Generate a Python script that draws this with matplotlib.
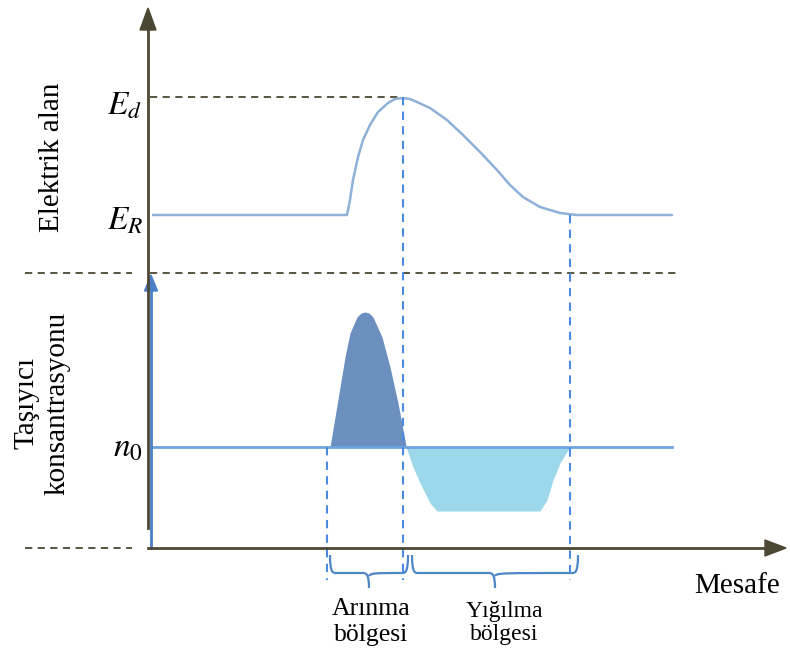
import numpy as np
import matplotlib
matplotlib.use('Agg')
import matplotlib.pyplot as plt
from matplotlib.path import Path
from matplotlib.patches import PathPatch, FancyArrow

plt.rcParams['mathtext.fontset'] = 'stix'

# diagram points (x = distance, y = level; y grows downward)
field_x = [153, 347, 350, 353, 358, 363, 370, 378, 388, 395, 402, 410, 417, 430, 447, 463,
           480, 497, 510, 523, 540, 560, 577, 672]
field_y = [215, 215, 200, 180, 157, 140, 125, 112, 103, 99, 98, 99, 102, 108, 120, 135,
           152, 170, 185, 197, 207, 213, 215, 215]

hump_x = [330, 335, 340, 345, 350, 357, 361, 365, 369, 373, 382, 390, 398, 405, 406]
hump_y = [447, 417, 387, 357, 333, 317, 313, 312, 313, 317, 337, 367, 403, 440, 447]

trough_x = [406, 413, 420, 430, 437, 540, 547, 553, 560, 568, 573]
trough_y = [447, 467, 483, 503, 511, 511, 500, 480, 463, 450, 447]

n0_level = 447
ed_level = 97
er_level = 215
split_level = 273
base_level = 548
region_edges = [327, 403, 570]
region_names = ['Arınma\nbölgesi', 'Yığılma\nbölgesi']

dark = '#4b4733'
blue_dash = '#4a8ae0'

fig = plt.figure(figsize=(7.9, 6.57), dpi=100)
ax = fig.add_axes([0, 0, 1, 1])
ax.set_xlim(0, 790)
ax.set_ylim(657, 0)
ax.axis('off')

# reference dashed lines
ax.plot([150, 400], [ed_level, ed_level], ls=(0, (4, 3)), color=dark, lw=1.3)
ax.plot([25, 132], [split_level, split_level], ls=(0, (4, 3)), color=dark, lw=1.3)
ax.plot([150, 676], [split_level, split_level], ls=(0, (4, 3)), color=dark, lw=1.3)
ax.plot([25, 132], [base_level, base_level], ls=(0, (4, 3)), color=dark, lw=1.3)

# electric field curve
ax.plot(field_x, field_y, color='#8fb0d8', lw=1.8, solid_capstyle='round', solid_joinstyle='round')

# carrier concentration
ax.plot([153, 672], [n0_level, n0_level], color='#6fa3e0', lw=2)
ax.fill_between(hump_x, hump_y, n0_level, color='#6b8fbf', lw=0)
ax.fill_between(trough_x, trough_y, n0_level, color='#9cd8ea', lw=0)

# vertical region markers
ax.plot([region_edges[0]] * 2, [n0_level, 580], ls=(0, (4, 3)), color=blue_dash, lw=1.5)
ax.plot([region_edges[1]] * 2, [ed_level, 580], ls=(0, (4, 3)), color=blue_dash, lw=1.5)
ax.plot([region_edges[2]] * 2, [er_level, 580], ls=(0, (4, 3)), color=blue_dash, lw=1.5)

# axes
ax.plot([151, 151], [base_level, 285], color='#4a7fc8', lw=2)
ax.add_patch(FancyArrow(151, 290, 0, -15, width=0, head_width=13, head_length=16,
                        length_includes_head=True, color='#4a7fc8'))
ax.plot([148, 148], [base_level - 20, 25], color=dark, lw=2)
ax.add_patch(FancyArrow(148, 30, 0, -22, width=0, head_width=16, head_length=22,
                        length_includes_head=True, color=dark))
ax.plot([148, 770], [base_level, base_level], color=dark, lw=2)
ax.add_patch(FancyArrow(765, base_level, 21, 0, width=0, head_width=16, head_length=21,
                        length_includes_head=True, color=dark))


def brace(x0, x1, y, h=18, d=15, col='#4f86c6'):
    xm = (x0 + x1) / 2.0
    verts = [(x0, y - h), (x0, y), (x0 + 3, y), (x0 + 6, y),
             (xm - 6, y), (xm - 2, y), (xm, y + 3), (xm, y + d),
             (xm, y + 3), (xm + 2, y), (xm + 6, y),
             (x1 - 6, y), (x1 - 3, y), (x1, y), (x1, y - h)]
    codes = [Path.MOVETO, Path.CURVE4, Path.CURVE4, Path.CURVE4,
             Path.LINETO, Path.CURVE4, Path.CURVE4, Path.CURVE4,
             Path.MOVETO, Path.CURVE4, Path.CURVE4,
             Path.LINETO, Path.CURVE4, Path.CURVE4, Path.CURVE4]
    ax.add_patch(PathPatch(Path(verts, codes), fill=False, edgecolor=col, lw=1.6))


brace(330, 408, 573)
brace(412, 578, 573)

serif = ['Liberation Serif', 'DejaVu Serif']
ax.text(371, 622, region_names[0], ha='center', va='center', fontsize=18.5,
        family=serif, linespacing=1.2)
ax.text(504, 623, region_names[1], ha='center', va='center', fontsize=17,
        family=serif, linespacing=1.15)
ax.text(737, 586, 'Mesafe', ha='center', va='center', fontsize=21, family=serif)

ax.text(52, 157, 'Elektrik alan', rotation=90, ha='center', va='center', fontsize=21, family=serif)
ax.text(42, 403, 'Taşıyıcı\nkonsantrasyonu', rotation=90, ha='center', va='center',
        fontsize=21, family=serif, linespacing=1.25)

ax.text(124, 105, r'$E_d$', ha='center', va='center', fontsize=24)
ax.text(125, 220, r'$E_R$', ha='center', va='center', fontsize=24)
ax.text(128, 447, r'$n_0$', ha='center', va='center', fontsize=24)

fig.savefig('out.png', dpi=100)
